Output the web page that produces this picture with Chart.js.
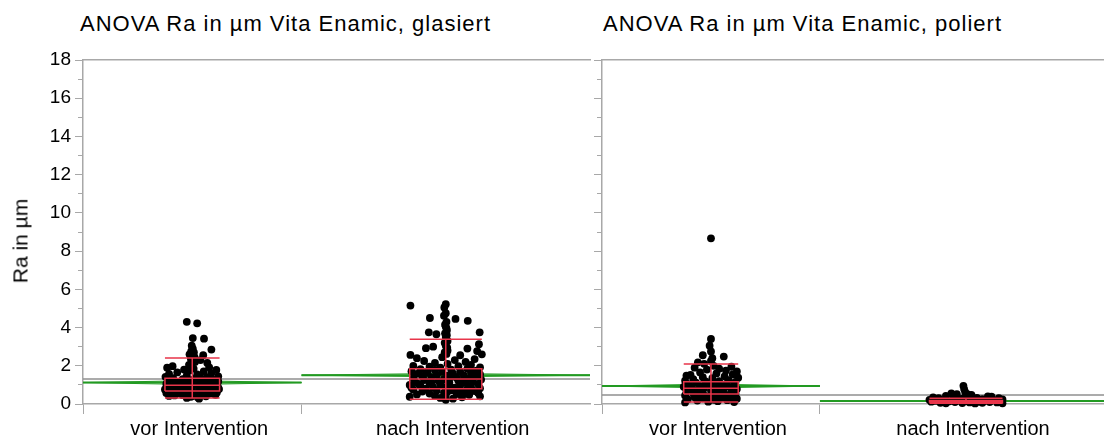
<!DOCTYPE html>
<html>
<head>
<meta charset="utf-8">
<script src="https://cdn.jsdelivr.net/npm/chart.js@4.4.0/dist/chart.umd.min.js"></script>
<style>
  html, body { margin: 0; padding: 0; background: #fff; overflow: hidden; }
  body { width: 1104px; height: 439px; position: relative; font-family: "Liberation Sans", Arial, sans-serif; }
  canvas { position: absolute; top: 0; }
  #chartGlasiert { left: 0; }
  #chartPoliert { left: 594px; }
  .panel-title { position: absolute; top: 13px; font-size: 22px; line-height: 22px; letter-spacing: 1px; color: #000; white-space: nowrap; }
  #yTitle { position: absolute; left: 20px; top: 241px; font-size: 21px; line-height: 21px; color: #000; white-space: nowrap;
            transform: translate(-50%, -50%) rotate(-90deg); z-index: 2; }
</style>
</head>
<body>
<div class="panel-title" id="titleGlasiert" style="left:80px"></div>
<div class="panel-title" id="titlePoliert" style="left:603px"></div>
<div id="yTitle"></div>
<canvas id="chartGlasiert" width="594" height="439"></canvas>
<canvas id="chartPoliert" width="522" height="439"></canvas>
<script>
// ---- data ----
const panelTitles = ['ANOVA Ra in µm Vita Enamic, glasiert', 'ANOVA Ra in µm Vita Enamic, poliert'];
const groupLabels = ['vor Intervention', 'nach Intervention'];
const yAxisTitle = 'Ra in µm';
const yTickValues = [0, 2, 4, 6, 8, 10, 12, 14, 16, 18];

// group sizes (x axis is proportional to n)
const glasiertN = [150, 198];
const poliertN = [150, 201];

// group means, mean-diamond half heights, grand mean
const glasiertMeans = [1.12, 1.51];
const poliertMeans = [0.94, 0.16];
const glasiertMeanCI = [0.10, 0.09];
const poliertMeanCI = [0.10, 0.03];
const glasiertGrandMean = 1.31;
const poliertGrandMean = 0.47;

// box plots: [lower whisker, q1, median, q3, upper whisker]
const glasiertVorBox = [0.31, 0.68, 0.98, 1.35, 2.41];
const glasiertNachBox = [0.25, 0.80, 1.31, 1.85, 3.39];
const poliertVorBox = [0.10, 0.52, 0.82, 1.17, 2.09];
const poliertNachBox = [0.02, 0.06, 0.10, 0.18, 0.30];

// points: [Ra, jitter (-1..1 of box half width)]
const glasiertVorPoints = [
  [4.30,-0.20],[4.22,0.18],[3.45,0.02],[3.42,0.43],[2.85,0.70],[3.05,-0.02],[2.90,0.02],[2.75,-0.04],
  [2.65,0.00],[2.60,-0.10],[2.55,0.40],[2.70,0.06],[2.45,0.08],[2.35,-0.05],[2.30,0.30],[2.20,0.10],
  [2.15,0.55],[2.05,-0.12],[1.98,-0.72],[1.90,-0.92],[1.92,0.62],[1.80,-0.30],[1.78,0.88],[1.70,0.42],
  [1.65,-0.55],[1.62,0.70],[1.58,-0.85],[1.55,0.18],[1.50,-0.20],[1.45,0.95],[1.42,-0.98],[1.40,0.55],
  [1.35,-0.70],[1.33,0.10],[1.30,-0.35],[1.28,0.75],[1.25,-0.05],[1.22,0.40],[1.20,-0.88],[1.18,0.95],
  [1.15,-0.50],[1.12,0.20],[1.10,-0.20],[1.08,0.65],[1.05,-0.95],[1.03,0.90],[1.00,-0.65],[0.98,0.05],
  [0.96,0.45],[0.94,-0.30],[0.92,0.80],[0.90,-0.80],[0.88,0.25],[0.85,-0.10],[0.83,0.60],[0.80,-0.55],
  [0.78,0.98],[0.76,-1.00],[0.74,0.35],[0.72,-0.25],[0.70,0.70],[0.68,0.00],[0.66,-0.75],[0.64,0.50],
  [0.62,-0.40],[0.60,0.90],[0.58,-0.95],[0.56,0.15],[0.55,-0.15],[0.53,0.60],[0.52,-0.60],[0.50,0.30],
  [0.48,0.85],[0.46,-0.35],[0.44,0.05],[0.42,-0.85],[0.40,0.50],[0.38,-0.05],[0.35,0.20],[0.32,-0.20],
  [0.28,0.25],[1.15,0.50],[1.05,0.30],[0.95,-0.50],[0.85,0.95],[0.75,-0.70],[0.65,0.25],[0.55,0.75],
  [1.25,0.55],[1.38,0.30],[0.45,-0.65],[2.50,0.02],[2.80,0.00],[1.85,0.05],[1.75,-0.10]
];
const glasiertNachPoints = [
  [5.15,-0.98],[5.22,0.00],[5.05,-0.04],[4.75,0.00],[4.62,-0.05],[4.50,-0.44],[4.45,0.27],[4.35,0.61],
  [4.30,0.02],[4.15,-0.02],[4.05,0.00],[3.95,0.02],[3.85,0.03],[3.75,-0.47],[3.70,-0.02],[3.65,-0.26],
  [3.75,0.94],[3.60,0.03],[3.50,0.00],[3.30,0.05],[3.20,-0.03],[3.13,0.92],[3.05,0.00],[3.00,-0.35],
  [2.95,0.04],[2.92,-0.55],[2.90,0.60],[2.80,0.05],[2.77,0.87],[2.70,-0.03],[2.62,0.02],[2.60,1.00],
  [2.57,-0.98],[2.55,0.40],[2.45,-0.10],[2.40,-0.80],[2.35,0.80],[2.30,0.25],[2.25,-0.60],[2.20,0.55],
  [2.15,-0.30],[2.10,0.05],[2.05,0.70],[2.00,-0.90],[1.98,0.35],[1.95,-0.45],[1.92,0.95],[1.90,-0.15],
  [1.85,0.60],[1.82,-0.70],[1.80,0.15],[1.78,-0.30],[1.75,0.85],[1.72,-0.95],[1.70,0.40],[1.68,-0.10],
  [1.65,0.70],[1.62,-0.55],[1.60,0.20],[1.58,-0.80],[1.55,0.95],[1.52,-0.25],[1.50,0.50],[1.48,0.05],
  [1.45,-0.65],[1.42,0.80],[1.40,-0.40],[1.38,0.30],[1.35,-0.90],[1.32,0.65],[1.30,-0.05],[1.28,0.98],
  [1.25,-0.60],[1.22,0.35],[1.20,-0.20],[1.18,0.75],[1.15,-0.85],[1.12,0.10],[1.10,0.55],[1.08,-0.45],
  [1.05,0.90],[1.02,-0.15],[1.00,-1.00],[0.98,0.40],[0.95,-0.70],[0.92,0.70],[0.90,0.00],[0.88,-0.35],
  [0.85,0.25],[0.82,0.95],[0.80,-0.55],[0.78,0.60],[0.75,-0.90],[0.72,0.15],[0.70,-0.25],[0.68,0.80],
  [0.65,-0.65],[0.62,0.45],[0.60,-0.05],[0.58,0.90],[0.55,-0.45],[0.52,0.30],[0.50,-0.80],[0.48,0.65],
  [0.45,0.00],[0.42,-0.30],[0.40,0.95],[0.38,-1.00],[0.35,0.45],[0.32,-0.15],[0.28,0.20],[0.22,0.00],
  [1.60,0.85],[1.45,0.20],[1.25,0.50],[1.05,-0.75],[0.95,0.10],[0.85,-0.95],[0.75,0.40],[0.65,0.05],
  [0.55,0.60],[1.70,-0.50],[1.35,0.10],[1.15,-0.40]
];
const poliertVorPoints = [
  [8.67,0.00],[3.40,0.00],[3.05,-0.05],[2.75,0.00],[2.55,-0.30],[2.48,0.47],[2.40,0.05],[2.25,0.00],
  [2.18,-0.48],[2.10,-0.25],[2.00,0.10],[1.95,0.75],[1.90,-0.60],[1.85,0.30],[1.80,-0.15],[1.75,0.55],
  [1.70,0.95],[1.65,-0.40],[1.60,0.20],[1.55,0.80],[1.52,-0.75],[1.48,-0.90],[1.45,0.50],[1.40,-0.30],
  [1.38,1.00],[1.35,0.05],[1.30,-0.65],[1.25,0.65],[1.22,-0.95],[1.20,0.30],[1.18,-0.20],[1.15,0.90],
  [1.12,-0.55],[1.10,0.10],[1.05,0.55],[1.02,-0.80],[1.00,-0.10],[0.98,0.85],[0.95,-0.40],[0.92,0.35],
  [0.90,-1.00],[0.88,0.70],[0.85,-0.25],[0.82,0.15],[0.80,-0.70],[0.78,0.95],[0.75,0.45],[0.72,-0.50],
  [0.70,0.00],[0.68,-0.90],[0.65,0.75],[0.62,-0.30],[0.60,0.30],[0.58,-0.65],[0.55,0.90],[0.52,0.05],
  [0.50,-0.45],[0.48,0.55],[0.45,-0.95],[0.42,0.20],[0.40,-0.15],[0.38,0.80],[0.35,-0.60],[0.32,0.40],
  [0.30,-0.30],[0.28,0.95],[0.25,-0.85],[0.22,0.10],[0.20,0.60],[0.18,-0.50],[0.15,0.25],[0.12,-0.10],
  [0.10,0.85],[0.08,-0.95]
];
const poliertNachPoints = [
  [0.95,-0.07],[0.78,-0.05],[0.62,-0.02],[0.55,-0.40],[0.52,-0.25],[0.50,0.05],[0.48,0.15],[0.42,-0.55],
  [0.40,0.60],[0.38,0.70],[0.35,-0.90],[0.32,0.30],[0.30,-0.75],[0.30,0.90],[0.28,-0.10],[0.26,0.45],
  [0.25,-0.35],[0.24,1.00],[0.22,-1.00],[0.22,0.20],[0.20,-0.60],[0.20,0.75],[0.18,-0.20],[0.18,0.55],
  [0.16,-0.85],[0.15,0.05],[0.15,0.95],[0.14,-0.45],[0.12,0.35],[0.12,-0.95],[0.10,0.65],[0.10,-0.30],
  [0.08,0.85],[0.08,0.10],[0.06,-0.70],[0.06,0.45],[0.05,-0.10],[0.04,1.00],[0.04,-0.55],[0.03,0.25]
];

// ---- styling ----
const AXIS_GRAY = '#a8a8a8';
const GRAND_GRAY = '#8f8f8f';
const MEAN_GREEN = '#229a22';
const BOX_RED = '#e8354a';
const BOX_HALF = 0.125; // box half width as share of group width

Chart.defaults.font.family = '"Liberation Sans", Arial, sans-serif';
Chart.defaults.color = '#000';

document.getElementById('titleGlasiert').textContent = panelTitles[0];
document.getElementById('titlePoliert').textContent = panelTitles[1];
document.getElementById('yTitle').textContent = yAxisTitle;

const lineSet = (data, color, width, order) => ({
  data: data,
  showLine: true,
  borderColor: color,
  borderWidth: width,
  pointRadius: 0,
  fill: false,
  tension: 0,
  order: order
});

const buildDatasets = (sizes, pointSets, boxSets, means, meanCI, grandMean) => {
  const total = sizes[0] + sizes[1];
  const datasets = [];
  datasets.push(lineSet([{x: 0, y: grandMean}, {x: total, y: grandMean}], GRAND_GRAY, 1.5, 4));

  sizes.forEach((n, g) => {
    const s = g === 0 ? 0 : sizes[0];
    const e = s + n;
    const c = s + n / 2;
    const hw = n * BOX_HALF;
    const m = means[g];
    const ci = meanCI[g];

    // mean line + mean diamond
    datasets.push(lineSet([{x: s, y: m}, {x: e, y: m}], MEAN_GREEN, 2, 3));
    datasets.push(lineSet([{x: s, y: m}, {x: c, y: m + ci}, {x: e, y: m}, {x: c, y: m - ci}, {x: s, y: m}], MEAN_GREEN, 1, 3));

    // jittered points
    datasets.push({
      data: pointSets[g].map(([ra, j]) => ({x: c + j * hw, y: ra})),
      pointRadius: 3.9,
      pointBackgroundColor: '#000',
      pointBorderWidth: 0,
      showLine: false,
      clip: 6,
      order: 1
    });

    // box plot
    const [lw, q1, md, q3, uw] = boxSets[g];
    const l = c - hw, r = c + hw;
    const gap = {x: c, y: null};
    datasets.push(lineSet([
      {x: l, y: q1}, {x: r, y: q1}, {x: r, y: q3}, {x: l, y: q3}, {x: l, y: q1}, gap,
      {x: l, y: md}, {x: r, y: md}, gap,
      {x: l, y: lw}, {x: r, y: lw}, gap,
      {x: l, y: uw}, {x: r, y: uw}, gap,
      {x: c, y: lw}, {x: c, y: uw}
    ], BOX_RED, 1.5, 0));
  });
  return datasets;
};

const buildPanel = (canvasId, sizes, datasets, showYLabels) => {
  const total = sizes[0] + sizes[1];
  const xTickValues = [0, sizes[0] / 2, sizes[0], sizes[0] + sizes[1] / 2];
  const xTickLabels = ['', groupLabels[0], '', groupLabels[1]];
  const isBoundary = (v) => v === 0 || v === sizes[0];

  return new Chart(document.getElementById(canvasId), {
    type: 'scatter',
    data: { datasets: datasets },
    options: {
      responsive: false,
      animation: false,
      events: [],
      layout: { padding: { top: 60, right: 2, bottom: 0, left: 0 } },
      plugins: { legend: { display: false }, tooltip: { enabled: false }, title: { display: false } },
      scales: {
        x: {
          type: 'linear', position: 'bottom', min: 0, max: total,
          afterBuildTicks: (scale) => { scale.ticks = xTickValues.map(v => ({value: v})); },
          afterFit: (scale) => { scale.height = 35; },
          ticks: {
            autoSkip: false, maxRotation: 0, minRotation: 0,
            font: { size: 20 }, padding: 3, labelOffset: 7,
            callback: (value, index) => xTickLabels[index]
          },
          grid: {
            drawOnChartArea: false, tickLength: 10,
            tickColor: (ctx) => isBoundary(ctx.tick.value) ? AXIS_GRAY : 'rgba(0,0,0,0)'
          },
          border: { color: AXIS_GRAY, width: 1.5 }
        },
        xTop: {
          type: 'linear', position: 'top', min: 0, max: total,
          ticks: { display: false },
          grid: { display: false },
          border: { color: AXIS_GRAY, width: 1.5 },
          afterFit: (scale) => { scale.height = 0; }
        },
        y: {
          type: 'linear', position: 'left', min: 0, max: 18, weight: 1,
          afterBuildTicks: (scale) => { scale.ticks = yTickValues.map(v => ({value: v})); },
          afterFit: (scale) => { scale.width = showYLabels ? 83 : 8; },
          ticks: {
            autoSkip: false, font: { size: 19 }, padding: 4,
            callback: (value) => showYLabels ? String(value) : ''
          },
          grid: { drawOnChartArea: false, tickLength: 8, tickColor: AXIS_GRAY },
          border: { color: AXIS_GRAY, width: 1.5 }
        },
        yMinor: {
          type: 'linear', position: 'left', min: 0, max: 18, weight: 0,
          afterFit: (scale) => { scale.width = 0; },
          ticks: { autoSkip: false, stepSize: 1, padding: 0, callback: () => '' },
          grid: { drawOnChartArea: false, tickLength: 5, tickColor: AXIS_GRAY },
          border: { display: false }
        }
      }
    }
  });
};

buildPanel('chartGlasiert', glasiertN,
  buildDatasets(glasiertN, [glasiertVorPoints, glasiertNachPoints], [glasiertVorBox, glasiertNachBox],
    glasiertMeans, glasiertMeanCI, glasiertGrandMean), true);

buildPanel('chartPoliert', poliertN,
  buildDatasets(poliertN, [poliertVorPoints, poliertNachPoints], [poliertVorBox, poliertNachBox],
    poliertMeans, poliertMeanCI, poliertGrandMean), false);
</script>
</body>
</html>
